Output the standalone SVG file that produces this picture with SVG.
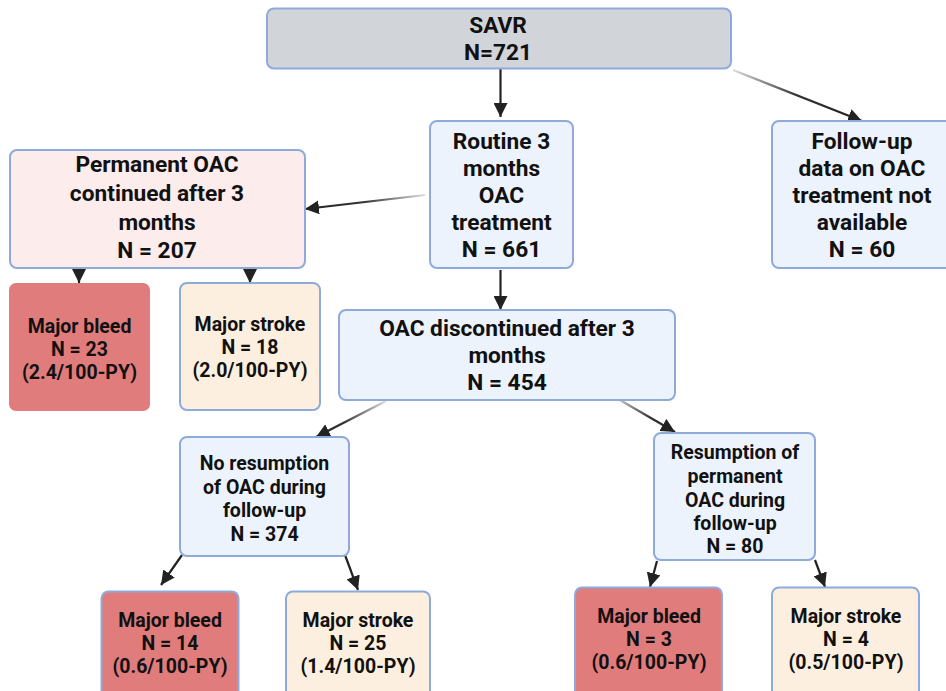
<svg xmlns="http://www.w3.org/2000/svg" width="946" height="691" viewBox="0 0 946 691">
<style>
.box{stroke:#8eaadb;stroke-width:2}
.blue{fill:#edf3fc}
.gray{fill:#d1d5d9}
.pink{fill:#fdecec}
.red{fill:#e07c7c}
.cream{fill:#fdefdf}
text{font-family:Roboto,"Liberation Sans",sans-serif;font-weight:bold;fill:#111;text-anchor:middle}
.t22{font-size:22.7px}
.t18{font-size:19.5px}
.c{fill:none;stroke:#222;stroke-width:2.2;marker-end:url(#ah)}
</style>
<defs>
<marker id="ah" markerUnits="userSpaceOnUse" markerWidth="14" markerHeight="14" refX="12" refY="6" orient="auto" viewBox="0 0 12 12">
<path d="M0,0 L12,6 L0,12 z" fill="#222"/>
</marker>
<linearGradient id="g1" gradientUnits="userSpaceOnUse" x1="425" y1="195" x2="305" y2="209"><stop offset="0" stop-color="#ddd"/><stop offset="0.5" stop-color="#333"/><stop offset="1" stop-color="#222"/></linearGradient>
<linearGradient id="g2" gradientUnits="userSpaceOnUse" x1="733" y1="70" x2="862" y2="121"><stop offset="0" stop-color="#ddd"/><stop offset="0.5" stop-color="#333"/><stop offset="1" stop-color="#222"/></linearGradient>
<linearGradient id="g3" gradientUnits="userSpaceOnUse" x1="386" y1="401" x2="316" y2="437"><stop offset="0" stop-color="#ddd"/><stop offset="0.6" stop-color="#333"/><stop offset="1" stop-color="#222"/></linearGradient>
<linearGradient id="g4" gradientUnits="userSpaceOnUse" x1="613" y1="396" x2="675" y2="432"><stop offset="0" stop-color="#ddd"/><stop offset="0.6" stop-color="#333"/><stop offset="1" stop-color="#222"/></linearGradient>
</defs>

<g id="connectors">
<line class="c" x1="500.5" y1="69" x2="500.5" y2="117"/>
<line class="c" x1="425" y1="195" x2="305" y2="209" style="stroke:url(#g1)"/>
<line class="c" x1="733" y1="70" x2="862" y2="121" style="stroke:url(#g2)"/>
<line class="c" x1="79" y1="268" x2="79" y2="283"/>
<line class="c" x1="250" y1="268" x2="250" y2="283"/>
<line class="c" x1="500.5" y1="270" x2="500.5" y2="310"/>
<line class="c" x1="386" y1="401" x2="316" y2="437" style="stroke:url(#g3)"/>
<line class="c" x1="613" y1="396" x2="675" y2="432"  style="stroke:url(#g4)"/>
<line class="c" x1="182" y1="555" x2="161" y2="585"/>
<line class="c" x1="345" y1="555" x2="358" y2="590"/>
<line class="c" x1="657" y1="561" x2="650" y2="587"/>
<line class="c" x1="815" y1="560" x2="825" y2="587"/>
</g>

<g id="savr">
<rect class="box gray" x="267" y="8.5" width="464" height="60" rx="7"/>
<text class="t22" x="498" y="33">SAVR</text>
<text class="t22" x="498" y="60">N=721</text>
</g>

<g id="routine">
<rect class="box blue" x="430" y="121" width="143" height="147" rx="7"/>
<text class="t22" x="501.5" y="149">Routine 3</text>
<text class="t22" x="501.5" y="176">months</text>
<text class="t22" x="501.5" y="203">OAC</text>
<text class="t22" x="501.5" y="230">treatment</text>
<text class="t22" x="501.5" y="257">N = 661</text>
</g>

<g id="followup">
<rect class="box blue" x="772" y="121" width="182" height="147" rx="7"/>
<text class="t22" x="862" y="149">Follow-up</text>
<text class="t22" x="862" y="176">data on OAC</text>
<text class="t22" x="862" y="203">treatment not</text>
<text class="t22" x="862" y="230">available</text>
<text class="t22" x="862" y="257">N = 60</text>
</g>

<g id="permanent">
<rect class="box pink" x="10" y="150" width="295" height="118" rx="7"/>
<text class="t22" x="157" y="172">Permanent OAC</text>
<text class="t22" x="157" y="201">continued after 3</text>
<text class="t22" x="157" y="230">months</text>
<text class="t22" x="157" y="258">N = 207</text>
</g>

<g id="bleed1">
<rect class="red" x="9" y="283" width="141" height="128" rx="7"/>
<text class="t18" x="79.5" y="333">Major bleed</text>
<text class="t18" x="79.5" y="356">N = 23</text>
<text class="t18" x="79.5" y="379">(2.4/100-PY)</text>
</g>

<g id="stroke1">
<rect class="box cream" x="180" y="283" width="140" height="127" rx="7"/>
<text class="t18" x="250" y="331">Major stroke</text>
<text class="t18" x="250" y="354">N = 18</text>
<text class="t18" x="250" y="377">(2.0/100-PY)</text>
</g>

<g id="discontinued">
<rect class="box blue" x="339" y="310" width="336" height="90" rx="7"/>
<text class="t22" x="507" y="336">OAC discontinued after 3</text>
<text class="t22" x="507" y="363">months</text>
<text class="t22" x="507" y="390">N = 454</text>
</g>

<g id="noresumption">
<rect class="box blue" x="180" y="437" width="169" height="119" rx="7"/>
<text class="t18" x="264.5" y="470">No resumption</text>
<text class="t18" x="264.5" y="494">of OAC during</text>
<text class="t18" x="264.5" y="517">follow-up</text>
<text class="t18" x="264.5" y="541">N = 374</text>
</g>

<g id="resumption">
<rect class="box blue" x="654" y="433" width="161" height="127" rx="7"/>
<text class="t18" x="735" y="459">Resumption of</text>
<text class="t18" x="735" y="483">permanent</text>
<text class="t18" x="735" y="507">OAC during</text>
<text class="t18" x="735" y="530">follow-up</text>
<text class="t18" x="735" y="553">N = 80</text>
</g>

<g id="bleed2">
<rect class="box red" x="101.5" y="591.5" width="137" height="110" rx="7"/>
<text class="t18" x="170" y="627">Major bleed</text>
<text class="t18" x="170" y="650">N = 14</text>
<text class="t18" x="170" y="673">(0.6/100-PY)</text>
</g>

<g id="stroke2">
<rect class="box cream" x="286" y="591.5" width="144" height="110" rx="7"/>
<text class="t18" x="358" y="627">Major stroke</text>
<text class="t18" x="358" y="650">N = 25</text>
<text class="t18" x="358" y="673">(1.4/100-PY)</text>
</g>

<g id="bleed3">
<rect class="box red" x="575" y="587.5" width="147" height="114" rx="7"/>
<text class="t18" x="649" y="623">Major bleed</text>
<text class="t18" x="649" y="646">N = 3</text>
<text class="t18" x="649" y="669">(0.6/100-PY)</text>
</g>

<g id="stroke3">
<rect class="box cream" x="772" y="587.5" width="147" height="114" rx="7"/>
<text class="t18" x="846" y="623">Major stroke</text>
<text class="t18" x="846" y="646">N = 4</text>
<text class="t18" x="846" y="669">(0.5/100-PY)</text>
</g>
</svg>
